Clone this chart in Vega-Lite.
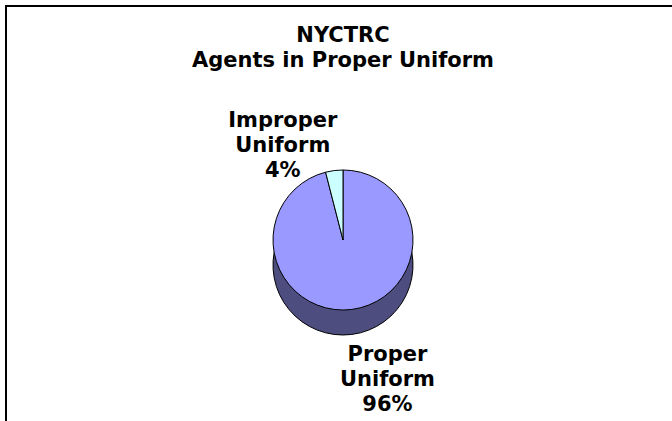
{
  "$schema": "https://vega.github.io/schema/vega-lite/v6.json",
  "autosize": {"type": "none"},
  "width": 674,
  "height": 468,
  "padding": {"left": 6, "top": 6, "right": -8, "bottom": -53},
  "background": "white",
  "view": {"stroke": "black", "strokeWidth": 2},
  "config": {
    "view": {"stroke": "black", "strokeWidth": 2},
    "font": "DejaVu Sans"
  },
  "title": {
    "text": ["NYCTRC", "Agents in Proper Uniform"],
    "font": "DejaVu Sans",
    "fontSize": 21,
    "fontWeight": "bold",
    "color": "black",
    "lineHeight": 25,
    "anchor": "middle",
    "baseline": "alphabetic",
    "offset": -82
  },
  "data": {
    "values": [
      {"category": "Proper Uniform", "value": 96, "label": "Proper\nUniform\n96%"},
      {"category": "Improper Uniform", "value": 4, "label": "Improper\nUniform\n4%"}
    ]
  },
  "layer": [
    {
      "mark": {"type": "arc", "radius": 70, "yOffset": 25, "color": "#4D4D7F", "stroke": "black", "strokeWidth": 1},
      "encoding": {
        "theta": {"field": "value", "type": "quantitative", "stack": true},
        "order": {"field": "value", "sort": "descending"}
      }
    },
    {
      "mark": {"type": "arc", "radius": 70, "stroke": "black", "strokeWidth": 1},
      "encoding": {
        "theta": {"field": "value", "type": "quantitative", "stack": true},
        "order": {"field": "value", "sort": "descending"},
        "color": {
          "field": "category",
          "type": "nominal",
          "scale": {"domain": ["Proper Uniform", "Improper Uniform"], "range": ["#9999FF", "#CCFFFF"]},
          "legend": null
        }
      }
    },
    {
      "mark": {"type": "text", "radius": 97.5, "dx": -48, "dy": -22, "font": "DejaVu Sans", "fontSize": 21, "fontWeight": "bold", "lineBreak": "\n", "lineHeight": 25, "align": "center", "baseline": "middle", "color": "black"},
      "encoding": {
        "theta": {"field": "value", "type": "quantitative", "stack": true},
        "order": {"field": "value", "sort": "descending"},
        "text": {"condition": {"test": "datum.category === 'Improper Uniform'", "field": "label"}, "value": ""}
      }
    },
    {
      "mark": {"type": "text", "radius": 139.4, "dx": 27, "dy": -23, "font": "DejaVu Sans", "fontSize": 21, "fontWeight": "bold", "lineBreak": "\n", "lineHeight": 25, "align": "center", "baseline": "middle", "color": "black"},
      "encoding": {
        "theta": {"field": "value", "type": "quantitative", "stack": true},
        "order": {"field": "value", "sort": "descending"},
        "text": {"condition": {"test": "datum.category === 'Proper Uniform'", "field": "label"}, "value": ""}
      }
    }
  ]
}
